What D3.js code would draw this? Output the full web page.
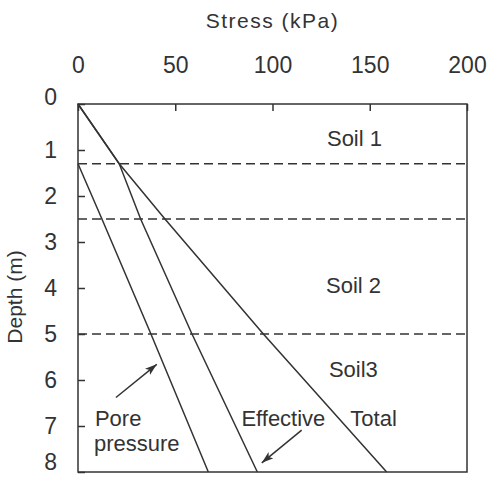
<!DOCTYPE html>
<html>
<head>
<meta charset="utf-8">
<style>
  body { margin: 0; background: #fff; }
  svg { display: block; font-family: "Liberation Sans", Arial, sans-serif; }
  .axis text { fill: #333; font-size: 23px; }
  .axis line { stroke: #333; stroke-width: 1.5; }
  .axis path { display: none; }
</style>
<script src="https://cdn.jsdelivr.net/npm/d3@7"></script>
</head>
<body>
<script>
// depth points (m) where the stress profiles change slope
var depths = [0, 1.3, 2.5, 5, 8];
var totalStress = [0, 21.2, 44.7, 95.3, 158.7];
var porePressure = [0, 0, 12.3, 37.5, 67];
var effectiveStress = [0, 21.2, 32.2, 58.6, 92.2];

// layer boundaries (dashed)
var boundaries = [1.3, 2.5, 5];
var xTicks = [0, 50, 100, 150, 200];
var yTicks = [0, 1, 2, 3, 4, 5, 6, 7, 8];

// in-plot labels, in data units [stress, depth]
var soilLabels = [
  {text: "Soil 1", s: 128, d: 0.92},
  {text: "Soil 2", s: 127.5, d: 4.1},
  {text: "Soil3", s: 129, d: 5.93}
];

var width = 490, height = 478;
var x = d3.scaleLinear().domain([0, 200]).range([78, 467]);
var y = d3.scaleLinear().domain([0, 8]).range([104, 472]);

var svg = d3.select("body").append("svg")
    .attr("width", width)
    .attr("height", height);

svg.append("defs").append("marker")
    .attr("id", "head")
    .attr("viewBox", "0 0 12 8")
    .attr("refX", 12).attr("refY", 4)
    .attr("markerWidth", 12).attr("markerHeight", 8)
    .attr("markerUnits", "userSpaceOnUse")
    .attr("orient", "auto")
  .append("path")
    .attr("d", "M0,0 L12,4 L0,8 L3,4 Z")
    .attr("fill", "#333");

// title
svg.append("text")
    .attr("x", 272.5).attr("y", 28)
    .attr("text-anchor", "middle")
    .style("font-size", "21px")
    .style("letter-spacing", "1.5px")
    .attr("fill", "#333")
    .text("Stress (kPa)");

// axes, ticks pointing inward
svg.append("g")
    .attr("class", "axis")
    .attr("transform", "translate(0," + y(0) + ")")
    .call(d3.axisTop(x).tickValues(xTicks).tickSizeInner(-7).tickSizeOuter(0).tickPadding(31));

var yAxis = svg.append("g")
    .attr("class", "axis")
    .attr("transform", "translate(" + x(0) + ",0)")
    .call(d3.axisLeft(y).tickValues(yTicks).tickSizeInner(-7).tickSizeOuter(0).tickPadding(21));

// end labels sit a little inside the frame in the original
yAxis.selectAll(".tick text")
    .attr("dy", d => d === 0 ? "0.02em" : d === 8 ? "-0.1em" : "0.32em");

svg.append("text")
    .attr("transform", "translate(22,297) rotate(-90)")
    .attr("text-anchor", "middle")
    .style("font-size", "21px")
    .attr("fill", "#333")
    .text("Depth (m)");

// frame
svg.append("rect")
    .attr("x", x(0)).attr("y", y(0))
    .attr("width", x(200) - x(0))
    .attr("height", y(8) - y(0))
    .attr("fill", "none")
    .attr("stroke", "#333")
    .attr("stroke-width", 1.5);

// layer boundaries
svg.selectAll(".bound")
    .data(boundaries)
    .enter().append("line")
    .attr("x1", x(0)).attr("x2", x(200))
    .attr("y1", d => y(d)).attr("y2", d => y(d))
    .attr("stroke", "#333")
    .attr("stroke-width", 1.5)
    .attr("stroke-dasharray", "9,5");

var line = d3.line().x(d => x(d[0])).y(d => y(d[1]));

var profiles = [
  depths.map((d, i) => [totalStress[i], d]),
  depths.map((d, i) => [effectiveStress[i], d]),
  depths.map((d, i) => [porePressure[i], d]).slice(1)
];

svg.selectAll(".profile")
    .data(profiles)
    .enter().append("path")
    .attr("d", line)
    .attr("fill", "none")
    .attr("stroke", "#333")
    .attr("stroke-width", 1.5);

// labels
var label = svg.append("g")
    .style("font-size", "22px")
    .attr("fill", "#333");

label.selectAll(".soil")
    .data(soilLabels)
    .enter().append("text")
    .attr("x", d => x(d.s)).attr("y", d => y(d.d))
    .text(d => d.text);

label.append("text").attr("x", x(8.7)).attr("y", y(7.0)).text("Pore");
label.append("text").attr("x", x(8.2)).attr("y", y(7.55)).text("pressure");
label.append("text").attr("x", x(84)).attr("y", y(7.0)).text("Effective");
label.append("text").attr("x", x(140)).attr("y", y(7.0)).text("Total");

// arrows [stress, depth] from -> to
var arrows = [
  [[19.5, 6.38], [40.5, 5.66]],
  [[115, 7.09], [94.5, 7.8]]
];
svg.selectAll(".arrow")
    .data(arrows)
    .enter().append("line")
    .attr("x1", d => x(d[0][0])).attr("y1", d => y(d[0][1]))
    .attr("x2", d => x(d[1][0])).attr("y2", d => y(d[1][1]))
    .attr("stroke", "#333")
    .attr("stroke-width", 1.5)
    .attr("marker-end", "url(#head)");
</script>
</body>
</html>
